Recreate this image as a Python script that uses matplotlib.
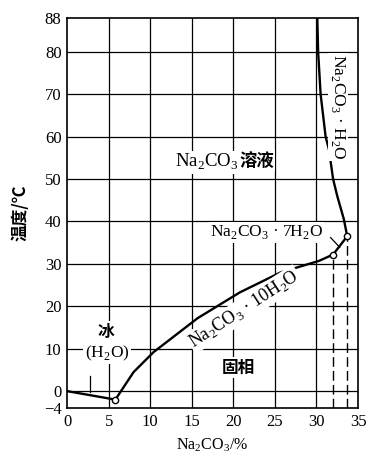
import matplotlib.pyplot as plt

plt.rcParams['font.family'] = ['Liberation Serif', 'Noto Sans CJK SC', 'DejaVu Sans']
plt.rcParams['mathtext.fontset'] = 'custom'
plt.rcParams['mathtext.rm'] = 'Liberation Serif'

# phase boundary curves (Na2CO3 %, temperature degC)
ice_x = [0, 5.8]
ice_y = [0, -2]
deca_x = [5.8, 8, 10.4, 15.7, 20.8, 25.7, 30.3, 32.0]
deca_y = [-2, 4.5, 9.2, 17.2, 23.3, 28, 30.7, 32.2]
hepta_x = [32.0, 33.7]
hepta_y = [32.2, 36.5]
mono_x = [33.7, 33.3, 32.5, 32.0, 31.5, 31.1, 30.5, 30.2, 30.1]
mono_y = [36.5, 40.5, 46, 50, 57, 60, 70, 80, 88]

# transition points
pt_x = [5.8, 32.0, 33.7]
pt_y = [-2, 32.2, 36.5]

x_ticks = [0, 5, 10, 15, 20, 25, 30, 35]
y_ticks = [-4, 0, 10, 20, 30, 40, 50, 60, 70, 80, 88]
y_labels = ['−4', '0', '10', '20', '30', '40', '50', '60', '70', '80', '88']

fig = plt.figure(figsize=(3.71, 4.57), dpi=100)
ax = fig.add_axes([0.181, 0.107, 0.784, 0.854])

ax.set_xlim(0, 35)
ax.set_ylim(-4, 88)
ax.set_xticks(x_ticks)
ax.set_yticks(y_ticks)
ax.set_yticklabels(y_labels)
ax.tick_params(length=0, labelsize=12, pad=4)

for x in x_ticks[1:-1]:
    ax.axvline(x, color='black', lw=0.9, zorder=1)
for y in y_ticks[1:-1]:
    ax.axhline(y, color='black', lw=0.9, zorder=1)
for s in ax.spines.values():
    s.set_linewidth(1.2)

lw = 1.7
ax.plot(ice_x, ice_y, color='black', lw=lw, zorder=3)
ax.plot(deca_x, deca_y, color='black', lw=lw, zorder=3)
ax.plot(hepta_x, hepta_y, color='black', lw=lw, zorder=3)
ax.plot(mono_x, mono_y, color='black', lw=lw, zorder=3)

# dashed drop lines under the transition points
for x, y in zip(pt_x[1:], pt_y[1:]):
    ax.plot([x, x], [-4, y], color='black', lw=1.0, ls=(0, (7, 3)), zorder=2)

ax.plot(pt_x, pt_y, 'o', ms=4.5, mfc='white', mec='black', mew=1.0, zorder=4)

# leader lines
ax.plot([2.8, 2.8], [3.5, -0.3], color='black', lw=0.9, zorder=3)
ax.plot([31.7, 32.8], [36.2, 33.9], color='black', lw=0.9, zorder=3)

bg = dict(facecolor='white', edgecolor='none', pad=1)
ax.text(20.6, 54, r'Na$_2$CO$_3$', fontsize=13.5, ha='right', va='center', bbox=bg, zorder=5)
ax.text(20.7, 54.3, '溶液', fontsize=12.5, ha='left', va='center', fontweight='bold',
        family=['Noto Sans CJK SC', 'DejaVu Sans'], bbox=bg, zorder=5)
ax.text(32.6, 67, r'Na$_2$CO$_3$ · H$_2$O', fontsize=12.5, ha='center', va='center',
        rotation=-90, bbox=bg, zorder=5)
ax.text(24.0, 37.4, r'Na$_2$CO$_3$ · 7H$_2$O', fontsize=12.5, ha='center', va='center', bbox=bg, zorder=5)
ax.text(21.3, 19.3, r'Na$_2$CO$_3$ · 10H$_2$O', fontsize=13, ha='center', va='center',
        rotation=33, bbox=bg, zorder=5)
ax.text(4.6, 14.0, '冰', fontsize=12, ha='center', va='center', fontweight='bold',
        family=['Noto Sans CJK SC', 'DejaVu Sans'], bbox=bg, zorder=5)
ax.text(4.8, 9.0, r'(H$_2$O)', fontsize=12.5, ha='center', va='center', bbox=bg, zorder=5)
ax.text(20.6, 5.6, '固相', fontsize=12, ha='center', va='center', fontweight='bold',
        family=['Noto Sans CJK SC', 'DejaVu Sans'], bbox=bg, zorder=5)

ax.set_ylabel('温度/℃', fontsize=12, fontweight='bold', labelpad=10,
              family=['Noto Sans CJK SC', 'DejaVu Sans'])
ax.set_xlabel(r'Na$_2$CO$_3$/%', fontsize=11.5, labelpad=5)

fig.savefig('out.png', dpi=100)
